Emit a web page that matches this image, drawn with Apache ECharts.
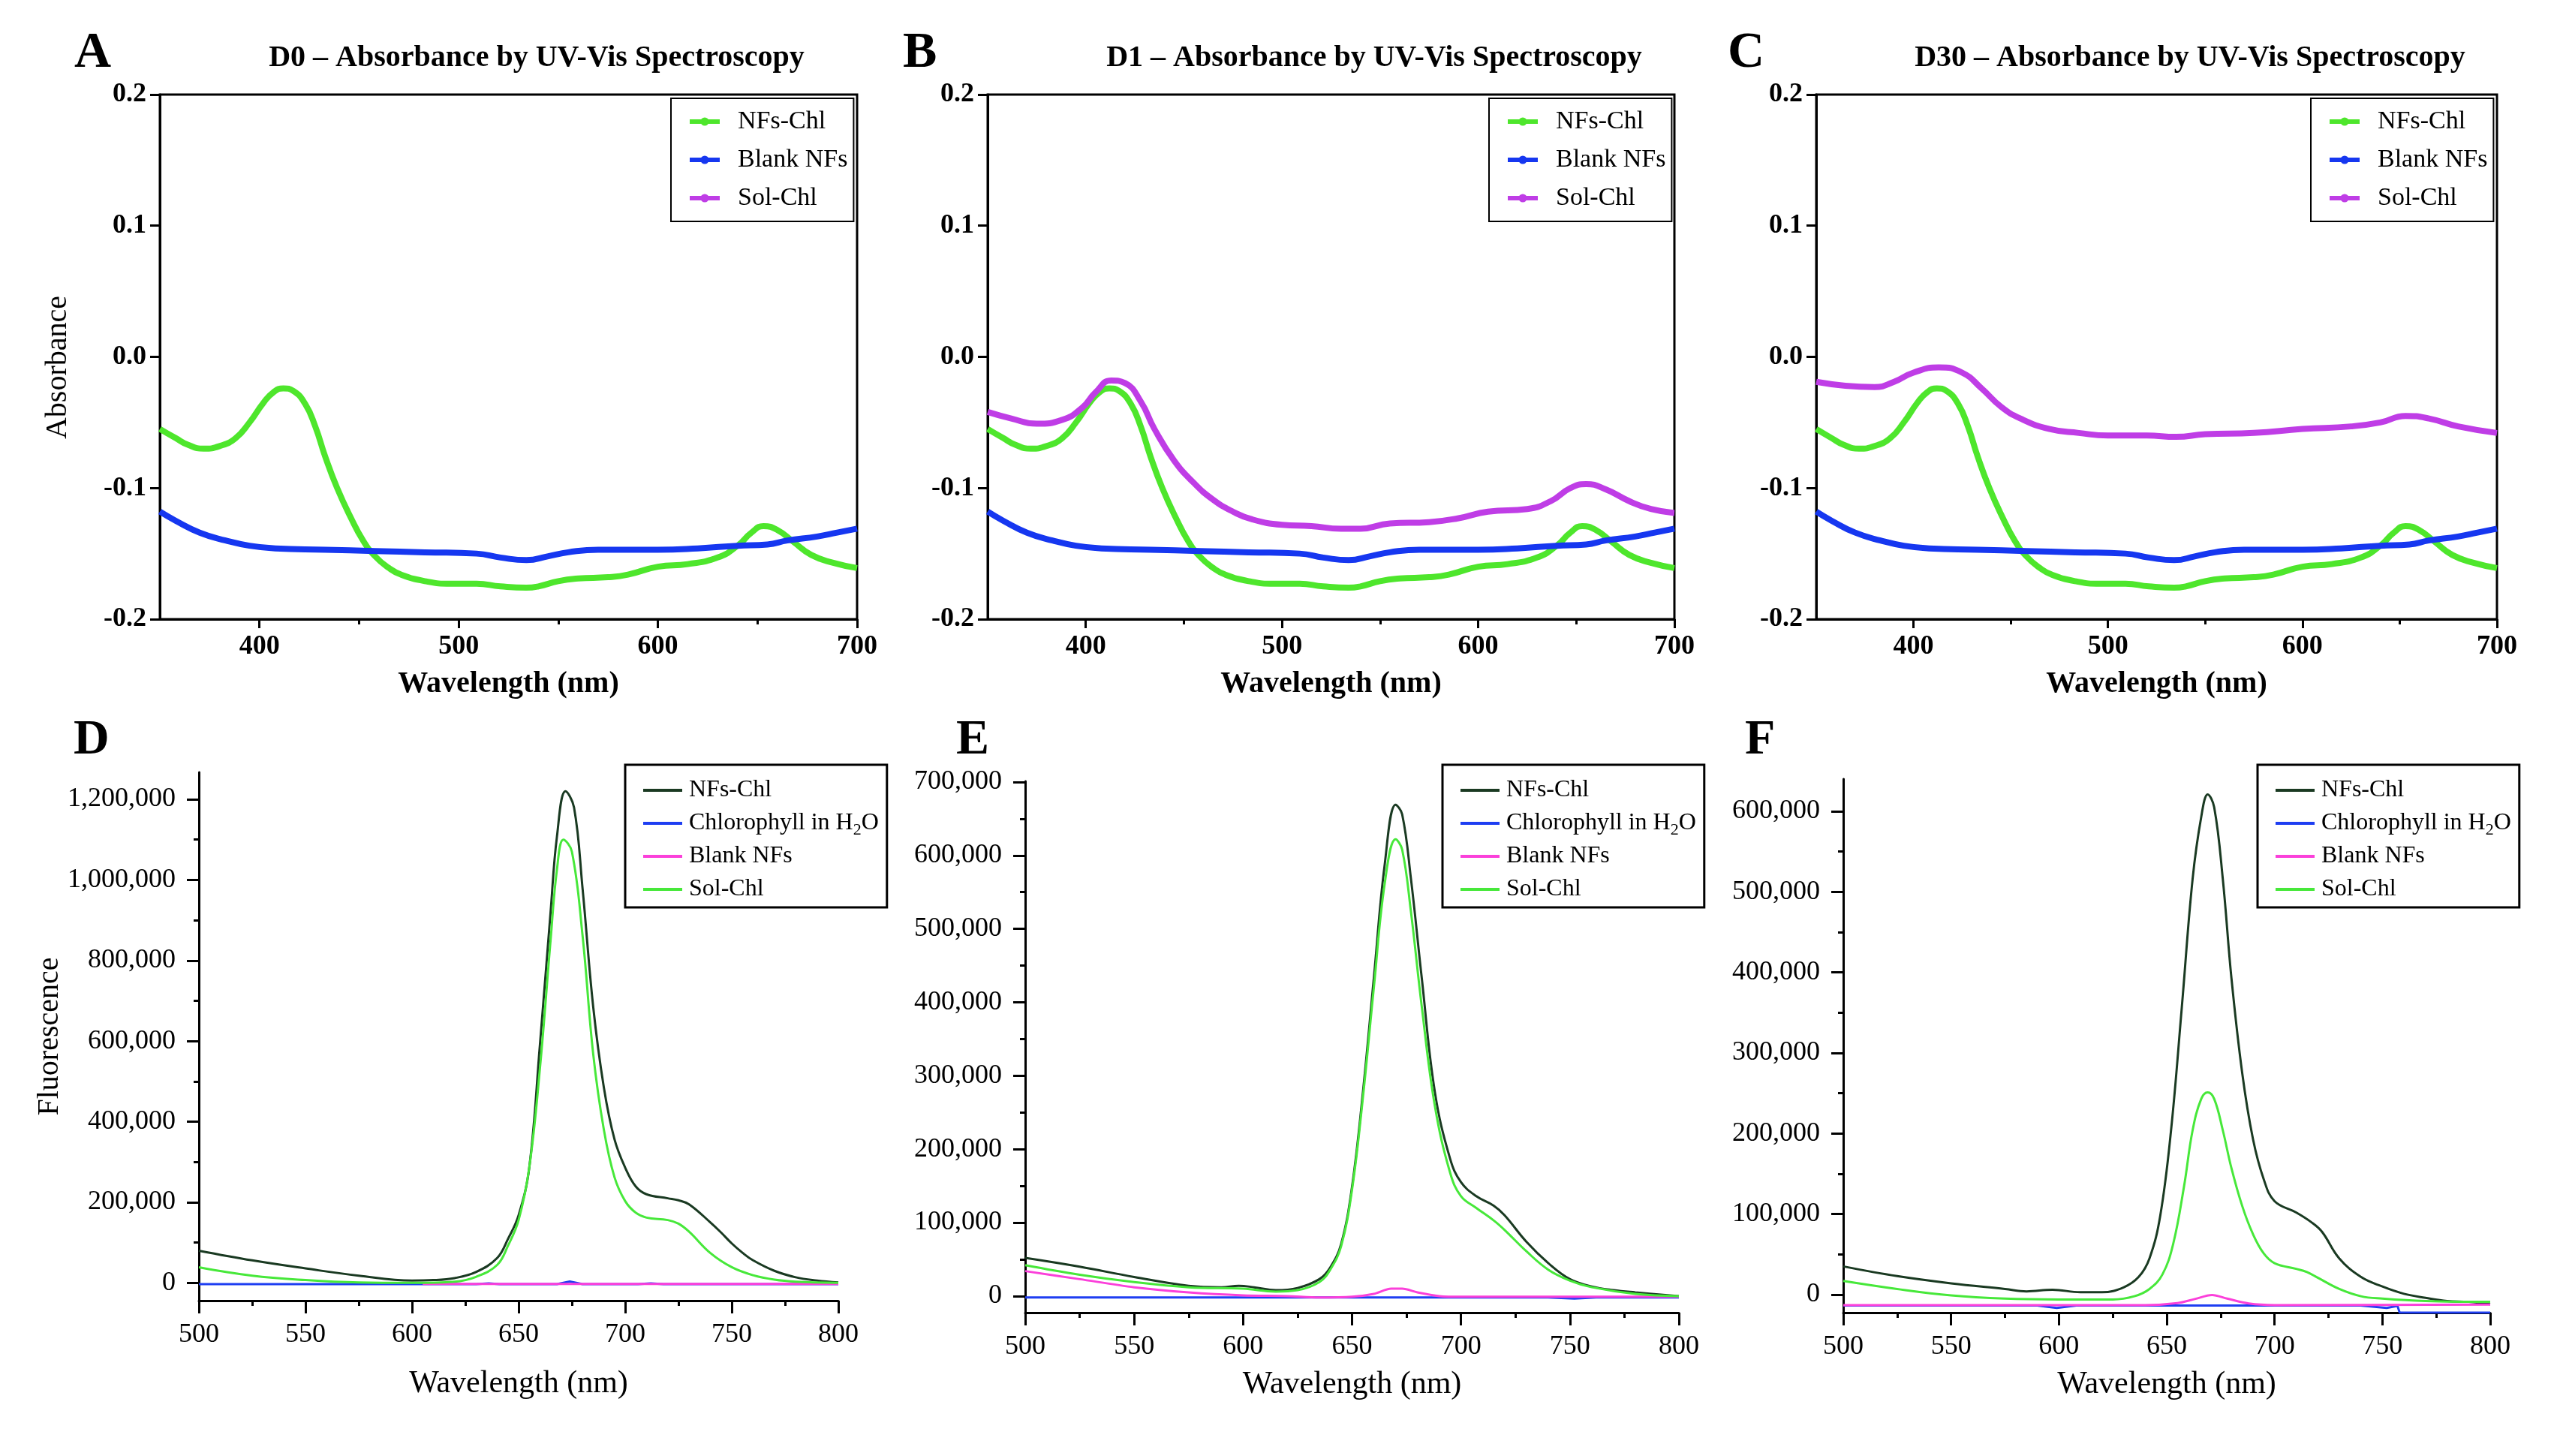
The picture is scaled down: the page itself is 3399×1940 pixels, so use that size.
<!DOCTYPE html>
<html>
<head>
<meta charset="utf-8">
<title>Absorbance and fluorescence spectra</title>
<script src="https://cdn.jsdelivr.net/npm/echarts@6.0.0/dist/echarts.min.js"></script>
<style>
html, body { margin: 0; padding: 0; background: #ffffff; }
#main { width: 3399px; height: 1940px; }
</style>
</head>
<body>
<div id="main"></div>
<script>
// ---------- data (wavelength nm, value) ----------

// UV-Vis absorbance; NFs-Chl and Blank NFs look the same in D0, D1 and D30
var absNfsChl = [[350,-0.055],[358,-0.062],[364,-0.067],[372,-0.070],[380,-0.068],[388,-0.062],[395,-0.050],
    [402,-0.035],[407,-0.027],[412,-0.024],[417,-0.026],[423,-0.036],[428,-0.053],[433,-0.076],[439,-0.100],
    [446,-0.123],[452,-0.140],[458,-0.152],[465,-0.161],[471,-0.166],[483,-0.171],[496,-0.173],[509,-0.173],
    [521,-0.175],[534,-0.176],[540,-0.175],[550,-0.171],[560,-0.169],[575,-0.168],[585,-0.166],[600,-0.160],
    [615,-0.158],[630,-0.153],[640,-0.144],[647,-0.134],[653,-0.129],[660,-0.132],[668,-0.141],[677,-0.151],
    [688,-0.157],[700,-0.161]];
var absBlankNfs = [[350,-0.118],[358,-0.125],[370,-0.134],[383,-0.140],[395,-0.144],[408,-0.146],[433,-0.147],
    [458,-0.148],[483,-0.149],[509,-0.150],[521,-0.153],[534,-0.155],[545,-0.152],[555,-0.149],[570,-0.147],
    [600,-0.147],[620,-0.146],[640,-0.144],[655,-0.143],[665,-0.140],[680,-0.137],[690,-0.134],[700,-0.131]];
var absSolChlD1 = [[350,-0.042],[362,-0.047],[375,-0.051],[388,-0.048],[398,-0.039],[405,-0.027],[413,-0.018],
    [420,-0.020],[428,-0.034],[435,-0.055],[445,-0.079],[455,-0.096],[465,-0.109],[475,-0.118],[485,-0.124],
    [500,-0.128],[515,-0.129],[530,-0.131],[540,-0.131],[555,-0.127],[575,-0.126],[590,-0.123],[605,-0.118],
    [625,-0.116],[637,-0.110],[647,-0.100],[655,-0.097],[665,-0.101],[677,-0.110],[688,-0.116],[700,-0.119]];
var absSolChlD30 = [[350,-0.019],[365,-0.022],[380,-0.023],[390,-0.019],[400,-0.012],[413,-0.008],[425,-0.012],
    [435,-0.024],[445,-0.038],[455,-0.047],[470,-0.055],[485,-0.058],[500,-0.060],[520,-0.060],[535,-0.061],
    [550,-0.059],[575,-0.058],[600,-0.055],[625,-0.053],[640,-0.050],[653,-0.045],[665,-0.047],[680,-0.053],
    [700,-0.058]];

// fluorescence, D0
var fluD0NfsChl = [[500,80000],[525,56000],[550,36000],[575,18000],[600,6000],[610,7000],[620,12000],[630,27000],
    [640,62000],[645,109000],[650,168000],[655,286000],[660,591000],[665,920000],[668,1108000],[672,1220000],
    [676,1180000],[680,979000],[685,685000],[690,485000],[695,356000],[700,286000],[705,239000],[710,220000],
    [720,210000],[725,205000],[730,195000],[740,150000],[745,125000],[750,98000],[755,75000],[760,56000],
    [770,30000],[780,14000],[790,6000],[800,1000]];
var fluD0Water = [[500,-3000],[630,-3000],[636,-1000],[641,-3000],[668,-3000],[674,3500],[680,-3000],
    [706,-3000],[712,-1000],[718,-3000],[800,-3000]];
var fluD0Blank = [[605,-2500],[700,-2500],[800,-2500]];
var fluD0SolChl = [[500,39000],[525,18000],[550,7000],[575,1000],[600,0],[620,3000],[630,15000],[640,45000],
    [645,92000],[650,156000],[655,286000],[660,532000],[665,850000],[668,1026000],[671,1100000],[675,1070000],
    [680,862000],[685,568000],[690,380000],[695,262000],[700,203000],[705,174000],[710,162000],[720,156000],
    [725,147000],[730,127000],[740,74000],[750,39000],[760,19000],[770,8000],[780,3000],[800,0]];

// fluorescence, D1
var fluD1NfsChl = [[500,52000],[525,40000],[550,26000],[575,14000],[590,12000],[598,14000],[605,12000],
    [615,8000],[625,11000],[635,23000],[640,39000],[645,71000],[650,149000],[655,278000],[660,433000],
    [665,588000],[670,669000],[673,656000],[677,569000],[682,433000],[688,278000],[695,187000],[700,155000],
    [707,136000],[715,123000],[720,110000],[730,74000],[740,45000],[750,23000],[760,13000],[770,8000],
    [780,5000],[800,0]];
var fluD1Water = [[500,-2000],[740,-2000],[752,-3500],[762,-2000],[800,-2000]];
var fluD1Blank = [[500,34000],[525,23000],[550,12000],[575,5000],[600,1000],[620,0],[635,-2000],[650,-1000],
    [660,3000],[668,10000],[673,10000],[680,5000],[690,0],[700,-1000],[800,-1000]];
var fluD1SolChl = [[500,42000],[525,29000],[550,19000],[575,12000],[600,10000],[615,6000],[625,8000],
    [635,19000],[640,36000],[645,68000],[650,145000],[655,271000],[660,420000],[665,562000],[670,622000],
    [673,608000],[677,524000],[682,394000],[688,259000],[695,168000],[700,136000],[707,120000],[715,103000],
    [720,90000],[730,61000],[740,36000],[750,21000],[760,12000],[780,3000],[800,0]];

// fluorescence, D30
var fluD30NfsChl = [[500,35000],[525,23000],[550,14000],[575,7000],[585,4000],[597,6000],[610,3000],
    [620,3000],[630,9000],[637,22000],[642,45000],[647,98000],[652,204000],[657,357000],[662,516000],
    [666,593000],[669,621000],[672,605000],[676,516000],[680,393000],[685,275000],[690,193000],[695,143000],
    [700,116000],[710,102000],[717,90000],[722,78000],[730,45000],[740,22000],[750,10000],[760,1000],
    [770,-4000],[780,-8000],[790,-9000],[800,-12000]];
var fluD30Water = [[500,-13500],[590,-13500],[599,-16500],[608,-13500],[740,-13500],[752,-16500],
    [757,-14000],[758,-22300],[800,-22300]];
var fluD30Blank = [[500,-13000],[640,-13000],[655,-10500],[663,-5500],[671,-500],[678,-5000],[688,-11000],
    [700,-13000],[800,-12500]];
var fluD30SolChl = [[500,17000],[525,7000],[550,-1000],[575,-5000],[600,-6000],[625,-6000],[635,-2000],
    [642,7000],[648,25000],[653,63000],[658,134000],[662,204000],[666,243000],[669,251000],[672,243000],
    [676,204000],[680,157000],[685,110000],[690,75000],[695,51000],[700,39000],[710,32000],[715,28000],
    [720,21000],[730,7000],[740,-2000],[750,-5000],[770,-8000],[800,-9000]];

// tick positions
var absXMajor = [400, 500, 600, 700];
var absXMinor = [450, 550, 650];
var absYTicks = [-0.2, -0.1, 0, 0.1, 0.2];
var fluXMajor = [500, 550, 600, 650, 700, 750, 800];
var fluXMinor = [525, 575, 625, 675, 725, 775];
var fluD0YMajor = [0, 200000, 400000, 600000, 800000, 1000000, 1200000];
var fluD0YMinor = [100000, 300000, 500000, 700000, 900000, 1100000];
var fluD1YMajor = [0, 100000, 200000, 300000, 400000, 500000, 600000, 700000];
var fluD1YMinor = [50000, 150000, 250000, 350000, 450000, 550000, 650000];
var fluD30YMajor = [0, 100000, 200000, 300000, 400000, 500000, 600000];
var fluD30YMinor = [50000, 150000, 250000, 350000, 450000, 550000];

// ---------- styling ----------
var FONT = '"Liberation Serif", "Times New Roman", Times, serif';
var COLORS = {
    absGreen: '#4ee62c', absBlue: '#1637f0', absViolet: '#bf3de6',
    fluDark: '#1a3a22', fluBlue: '#1e3ef2', fluPink: '#fb40da', fluGreen: '#47e83a'
};
var BLACK = { color: '#000', width: 3 };

function withCommas(v) {
    var s = String(Math.round(Math.abs(v))).replace(/\B(?=(\d{3})+(?!\d))/g, ',');
    return (v < 0 ? '-' : '') + s;
}

var grids = [
    { left: 213,  top: 126,  width: 929, height: 699, show: true, borderColor: '#000', borderWidth: 3 },
    { left: 1316, top: 126,  width: 915, height: 699, show: true, borderColor: '#000', borderWidth: 3 },
    { left: 2420, top: 126,  width: 907, height: 699, show: true, borderColor: '#000', borderWidth: 3 },
    { left: 265,  top: 1029, width: 852, height: 704 },
    { left: 1366, top: 1041, width: 871, height: 708 },
    { left: 2456, top: 1038, width: 862, height: 711 }
];

var xAxes = [], yAxes = [], series = [];

// one main axis pair plus an unlabeled pair that only draws the short minor ticks
function makeAxes(g, o) {
    var w = o.bold ? 'bold' : 'normal';
    var idx = { x: xAxes.length, y: yAxes.length };
    xAxes.push({
        type: 'value', gridIndex: g, position: 'bottom', min: o.xMin, max: o.xMax,
        name: 'Wavelength (nm)', nameLocation: 'middle', nameGap: o.xNameGap,
        nameTextStyle: { fontFamily: FONT, fontSize: o.xNameSize, fontWeight: w, color: '#000' },
        axisLine: { show: true, onZero: false, lineStyle: BLACK },
        axisTick: { show: true, customValues: o.xMajor, length: o.xTickLen, lineStyle: BLACK },
        axisLabel: { customValues: o.xMajor, margin: o.xLabelGap, fontFamily: FONT, fontSize: 36,
                     fontWeight: w, color: '#000' },
        splitLine: { show: false }
    });
    xAxes.push({
        type: 'value', gridIndex: g, position: 'bottom', min: o.xMin, max: o.xMax,
        axisLine: { show: false, onZero: false },
        axisTick: { show: true, customValues: o.xMinor, length: 7, lineStyle: BLACK },
        axisLabel: { show: false }, splitLine: { show: false }
    });
    yAxes.push({
        type: 'value', gridIndex: g, position: 'left', min: o.yMin, max: o.yMax,
        name: o.yName || '', nameLocation: 'middle', nameGap: o.yNameGap || 0,
        nameTextStyle: { fontFamily: FONT, fontSize: 40, color: '#000', padding: o.yNamePad || 0 },
        axisLine: { show: true, onZero: false, lineStyle: BLACK },
        axisTick: { show: true, customValues: o.yMajor, length: o.yTickLen, lineStyle: BLACK },
        axisLabel: { customValues: o.yMajor, margin: o.yLabelGap, fontFamily: FONT, fontSize: o.yLabelSize,
                     fontWeight: w, color: '#000', formatter: o.yFormat },
        splitLine: { show: false }
    });
    if (o.yMinor) {
        yAxes.push({
            type: 'value', gridIndex: g, position: 'left', min: o.yMin, max: o.yMax,
            axisLine: { show: false, onZero: false },
            axisTick: { show: true, customValues: o.yMinor, length: 7, lineStyle: BLACK },
            axisLabel: { show: false }, splitLine: { show: false }
        });
    }
    return idx;
}

function absAxes(g, yName) {
    return makeAxes(g, {
        bold: true, xMin: 350, xMax: 700, xMajor: absXMajor, xMinor: absXMinor, xTickLen: 12,
        xLabelGap: 19, xNameGap: 67, xNameSize: 40,
        yMin: -0.2, yMax: 0.2, yMajor: absYTicks, yTickLen: 13, yLabelGap: 18, yLabelSize: 36,
        yFormat: function (v) { return v.toFixed(1); },
        yName: yName, yNameGap: 116, yNamePad: [0, 28, 0, 0]
    });
}

function fluAxes(g, yMin, yMax, yMajor, yMinor, xNameGap, yName) {
    return makeAxes(g, {
        bold: false, xMin: 500, xMax: 800, xMajor: fluXMajor, xMinor: fluXMinor, xTickLen: 17,
        xLabelGap: 28, xNameGap: xNameGap, xNameSize: 42,
        yMin: yMin, yMax: yMax, yMajor: yMajor, yMinor: yMinor, yTickLen: 16, yLabelGap: 31, yLabelSize: 36,
        yFormat: withCommas, yName: yName, yNameGap: 177
    });
}

function line(name, data, ax, color, width, smooth) {
    return {
        type: 'line', name: name, data: data, xAxisIndex: ax.x, yAxisIndex: ax.y,
        symbol: width > 5 ? 'circle' : 'none', showSymbol: false, smooth: smooth,
        lineStyle: { color: color, width: width }, itemStyle: { color: color },
        silent: true
    };
}

// top row: absorbance
var axA = absAxes(0, 'Absorbance');
var axB = absAxes(1, '');
var axC = absAxes(2, '');
series.push(line('NFs-Chl', absNfsChl, axA, COLORS.absGreen, 8, 0.5));
series.push(line('Blank NFs', absBlankNfs, axA, COLORS.absBlue, 8, 0.5));
series.push(line('NFs-Chl', absNfsChl, axB, COLORS.absGreen, 8, 0.5));
series.push(line('Blank NFs', absBlankNfs, axB, COLORS.absBlue, 8, 0.5));
series.push(line('Sol-Chl', absSolChlD1, axB, COLORS.absViolet, 8, 0.5));
series.push(line('NFs-Chl', absNfsChl, axC, COLORS.absGreen, 8, 0.5));
series.push(line('Blank NFs', absBlankNfs, axC, COLORS.absBlue, 8, 0.5));
series.push(line('Sol-Chl', absSolChlD30, axC, COLORS.absViolet, 8, 0.5));

// bottom row: fluorescence
var WATER = 'Chlorophyll in H2O';
var axD = fluAxes(3, -44000, 1267000, fluD0YMajor, fluD0YMinor, 90, 'Fluorescence');
var axE = fluAxes(4, -22600, 701000, fluD1YMajor, fluD1YMinor, 75, '');
var axF = fluAxes(5, -22400, 640000, fluD30YMajor, fluD30YMinor, 75, '');
[[axD, fluD0NfsChl, fluD0Water, fluD0Blank, fluD0SolChl],
 [axE, fluD1NfsChl, fluD1Water, fluD1Blank, fluD1SolChl],
 [axF, fluD30NfsChl, fluD30Water, fluD30Blank, fluD30SolChl]].forEach(function (p) {
    series.push(line('NFs-Chl', p[1], p[0], COLORS.fluDark, 3, 0.4));
    series.push(line(WATER, p[2], p[0], COLORS.fluBlue, 3, false));
    series.push(line('Blank NFs', p[3], p[0], COLORS.fluPink, 3, 0.3));
    series.push(line('Sol-Chl', p[4], p[0], COLORS.fluGreen, 3, 0.4));
});

// legends, one boxed legend per panel
function legendItem(name, color, lw, dot) {
    return { name: name, itemStyle: { color: color, opacity: dot ? 1 : 0 }, lineStyle: { color: color, width: lw } };
}
function absLegend(left) {
    return {
        left: left, top: 131, orient: 'vertical', align: 'left', selectedMode: false,
        padding: [12, 8, 12, 22], itemGap: 13, itemWidth: 40, itemHeight: 14,
        borderColor: '#000', borderWidth: 2, backgroundColor: '#fff',
        textStyle: { fontFamily: FONT, fontSize: 34, lineHeight: 38, color: '#000', padding: [0, 0, 0, 19] },
        data: [legendItem('NFs-Chl', COLORS.absGreen, 6, true),
               legendItem('Blank NFs', COLORS.absBlue, 6, true),
               legendItem('Sol-Chl', COLORS.absViolet, 6, true)]
    };
}
function fluLegend(left) {
    return {
        left: left, top: 1019, orient: 'vertical', align: 'left', selectedMode: false,
        padding: [14, 11, 4, 22], itemGap: 4, itemWidth: 52, itemHeight: 10,
        borderColor: '#000', borderWidth: 3, backgroundColor: '#fff',
        formatter: function (name) { return name === WATER ? 'Chlorophyll in H{sub|2}O' : name; },
        textStyle: {
            fontFamily: FONT, fontSize: 32, lineHeight: 40, color: '#000', padding: [0, 0, 0, 4],
            rich: { sub: { fontFamily: FONT, fontSize: 22, lineHeight: 22, verticalAlign: 'bottom', color: '#000' } }
        },
        data: [legendItem('NFs-Chl', COLORS.fluDark, 4, false),
               legendItem(WATER, COLORS.fluBlue, 4, false),
               legendItem('Blank NFs', COLORS.fluPink, 4, false),
               legendItem('Sol-Chl', COLORS.fluGreen, 4, false)]
    };
}

// panel letters and headings
function label(text, x, y, size, align) {
    return { type: 'text', silent: true,
             style: { text: text, x: x, y: y, align: align, verticalAlign: 'middle',
                      font: 'bold ' + size + 'px ' + FONT, fill: '#000' } };
}
var graphics = [
    label('A', 99, 71, 68, 'left'), label('B', 1203, 71, 68, 'left'), label('C', 2302, 71, 68, 'left'),
    label('D', 98, 987, 66, 'left'), label('E', 1274, 987, 66, 'left'), label('F', 2325, 987, 66, 'left'),
    label('D0 \u2013 Absorbance by UV-Vis Spectroscopy', 715, 78, 40, 'center'),
    label('D1 \u2013 Absorbance by UV-Vis Spectroscopy', 1831, 78, 40, 'center'),
    label('D30 \u2013 Absorbance by UV-Vis Spectroscopy', 2918, 78, 40, 'center')
];

var chart = echarts.init(document.getElementById('main'), null, { renderer: 'canvas' });
chart.setOption({
    backgroundColor: '#ffffff',
    animation: false,
    grid: grids,
    xAxis: xAxes,
    yAxis: yAxes,
    legend: [absLegend(894), absLegend(1984), absLegend(3079),
             fluLegend(833), fluLegend(1922), fluLegend(3008)],
    graphic: graphics,
    series: series
});
</script>
</body>
</html>
